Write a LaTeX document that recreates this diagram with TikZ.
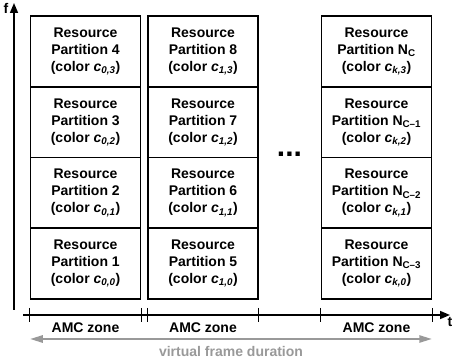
\documentclass[tikz,border=0pt]{standalone}
\usepackage{fontspec}
\setmainfont{Liberation Sans}
\usetikzlibrary{arrows.meta}

\tikzset{
  partition/.style={draw, line width=1.5pt, minimum width=110pt, minimum height=70.75pt,
    align=center, inner sep=0pt, font=\fontsize{14}{17}\selectfont\bfseries},
  zone/.style={font=\fontsize{14}{17}\selectfont\bfseries},
  axis/.style={line width=1.5pt, -{Triangle[length=10pt,width=8pt]}}
}
\newcommand{\colr}[1]{(color \textit{c}\textsubscript{\textit{#1}})}

\begin{document}
\begin{tikzpicture}[x=1pt, y=1pt]
    \useasboundingbox (0,0) rectangle (453,364);
    % first column
    \node[partition] (p4) at (85.5, 312.6) {Resource\\Partition 4\\\colr{0,3}} ;
    \node[partition] (p3) at (85.5, 241.9) {Resource\\Partition 3\\\colr{0,2}} ;
    \node[partition] (p2) at (85.5, 171.1) {Resource\\Partition 2\\\colr{0,1}} ;
    \node[partition] (p1) at (85.5, 100.4) {Resource\\Partition 1\\\colr{0,0}} ;
    % second column
    \node[partition] (p8) at (203, 312.6) {Resource\\Partition 8\\\colr{1,3}} ;
    \node[partition] (p7) at (203, 241.9) {Resource\\Partition 7\\\colr{1,2}} ;
    \node[partition] (p6) at (203, 171.1) {Resource\\Partition 6\\\colr{1,1}} ;
    \node[partition] (p5) at (203, 100.4) {Resource\\Partition 5\\\colr{1,0}} ;
    % last column
    \node[partition] (pk3) at (376.5, 312.6) {Resource\\Partition N\textsubscript{C}\\\colr{k,3}} ;
    \node[partition] (pk2) at (376.5, 241.9) {Resource\\Partition N\textsubscript{C–1}\\\colr{k,2}} ;
    \node[partition] (pk1) at (376.5, 171.1) {Resource\\Partition N\textsubscript{C–2}\\\colr{k,1}} ;
    \node[partition] (pk0) at (376.5, 100.4) {Resource\\Partition N\textsubscript{C–3}\\\colr{k,0}} ;
    \node[font=\fontsize{30}{30}\selectfont\bfseries] (dots) at (289.5, 210) {...} ;
    % axes
    \coordinate (forigin) at (14, 54) ;
    \coordinate (fend) at (14, 361) ;
    \coordinate (torigin) at (23, 49) ;
    \coordinate (tend) at (450, 49) ;
    \draw [axis] (forigin) -- (fend);
    \draw [axis] (torigin) -- (tend);
    \node[zone] (f) at (6, 356) {f} ;
    \node[zone] (t) at (450, 42) {t} ;
    \foreach \a in {p1.south west, p1.south east, p5.south west, p5.south east, pk0.south west, pk0.south east}
      \draw [line width=1.2pt] (\a |- tend) ++(0,7) -- ++(0,-14);
    \node[zone] (z1) at (85.5, 36) {AMC zone} ;
    \node[zone] (z2) at (203, 36) {AMC zone} ;
    \node[zone] (z3) at (376.5, 36) {AMC zone} ;
    % frame duration
    \draw [gray!80, line width=2.5pt, {Triangle[length=13pt,width=7pt]}-{Triangle[length=13pt,width=7pt]}]
      (p1.south west |- 0,25) -- (pk0.south east |- 0,25);
    \node[zone, text=gray!80] (vfd) at (231, 13) {virtual frame duration} ;
  \end{tikzpicture}
\end{document}
